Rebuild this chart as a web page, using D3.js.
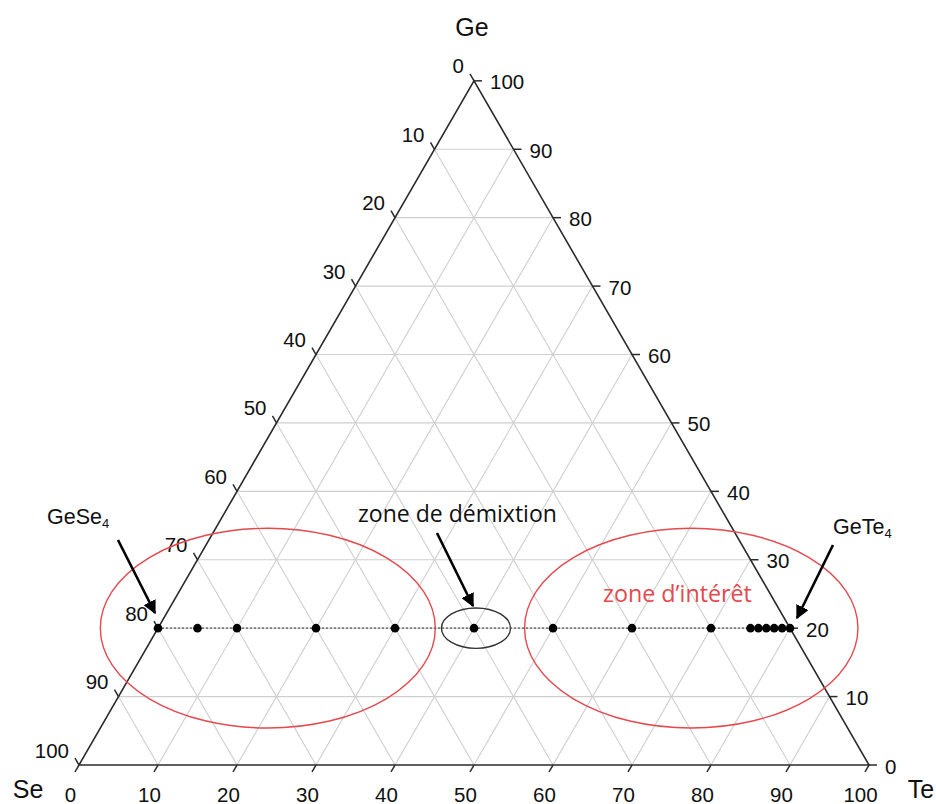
<!DOCTYPE html>
<html>
<head>
<meta charset="utf-8">
<script src="https://cdn.jsdelivr.net/npm/d3@7"></script>
<style>
  html, body { margin: 0; padding: 0; background: #fff; }
  svg { display: block; }
</style>
</head>
<body>
<svg id="chart" width="936" height="804"></svg>
<script>
// ---------------- data ----------------
const vertexNames = ["Se", "Te", "Ge"];
const tickValues = [0, 10, 20, 30, 40, 50, 60, 70, 80, 90, 100];
const gridValues = [10, 20, 30, 40, 50, 60, 70, 80, 90];
const sampleGe = 20;                                  // Ge at.% of every sample
const sampleTe = [0, 5, 10, 20, 30, 40, 50, 60, 70, 75, 76, 77, 78, 79, 80];
const compoundNames = ["GeSe", "GeTe"];
const zoneLabels = ["zone de démixtion", "zone d’intérêt"];
// zones drawn as ellipses centred on the Ge = 20 line: [Te centre, Te half-width, Ge half-height]
const zoneCenterTe = [13.9, 67.5, 40.25];
const zoneHalfTe = [21.2, 21.1, 4.37];
const zoneHalfGe = [14.6, 14.6, 2.95];

// ---------------- scales ----------------
const svg = d3.select("#chart");
const side = 790;
const x = d3.scaleLinear().domain([0, 100]).range([79, 79 + side]);           // Te + Ge/2
const y = d3.scaleLinear().domain([0, 100]).range([765, 765 - side * Math.sqrt(3) / 2]); // Ge
const P = (te, ge) => [x(te + ge / 2), y(ge)];
const kx = x(1) - x(0);   // px per unit
const ky = y(0) - y(1);

const line = d3.line();
const font = "'Liberation Sans', Arial, Helvetica, sans-serif";

// ---------------- grid ----------------
const grid = svg.append("g").attr("stroke", "#cfcfcf").attr("stroke-width", 1.1).attr("fill", "none");
gridValues.forEach(v => {
  grid.append("path").attr("d", line([P(0, v), P(100 - v, v)]));      // Ge = v
  grid.append("path").attr("d", line([P(v, 0), P(v, 100 - v)]));      // Te = v
  grid.append("path").attr("d", line([P(100 - v, 0), P(0, 100 - v)])); // Se = v
});

// ---------------- triangle ----------------
svg.append("path")
  .attr("d", line([P(0, 0), P(100, 0), P(0, 100)]) + "Z")
  .attr("fill", "none").attr("stroke", "#2b2b2b").attr("stroke-width", 1.6);

// ---------------- ticks & labels ----------------
const tl = 8;
const ticks = svg.append("g").attr("stroke", "#2b2b2b").attr("stroke-width", 1.5);
const labs = svg.append("g").attr("font-family", font).attr("font-size", 20.5).attr("fill", "#111");
tickValues.forEach(v => {
  // bottom: Te
  let [bx, by] = P(v, 0);
  ticks.append("line").attr("x1", bx).attr("y1", by).attr("x2", bx - tl * 0.5).attr("y2", by + tl * 0.866);
  labs.append("text").attr("x", bx - 8.5).attr("y", 794).attr("text-anchor", "middle")
    .attr("dominant-baseline", "central").text(v);
  // left: Se
  let [lx, ly] = P(0, 100 - v);
  ticks.append("line").attr("x1", lx).attr("y1", ly).attr("x2", lx - tl * 0.5).attr("y2", ly - tl * 0.866);
  labs.append("text").attr("x", lx - 10).attr("y", ly - 15).attr("text-anchor", "end")
    .attr("dominant-baseline", "central").text(v);
  // right: Ge
  let [rx, ry] = P(100 - v, v);
  ticks.append("line").attr("x1", rx).attr("y1", ry).attr("x2", rx + tl).attr("y2", ry);
  labs.append("text").attr("x", rx + 16).attr("y", ry + 1).attr("text-anchor", "start")
    .attr("dominant-baseline", "central").text(v);
});

// vertex names
const vn = svg.append("g").attr("font-family", font).attr("font-size", 25).attr("fill", "#111")
  .attr("dominant-baseline", "central").attr("text-anchor", "middle");
vn.append("text").attr("x", 28).attr("y", 789).text(vertexNames[0]);
vn.append("text").attr("x", 921).attr("y", 789).text(vertexNames[1]);
vn.append("text").attr("x", 472).attr("y", 27).text(vertexNames[2]);

// ---------------- zones (ellipses) ----------------
const red = "#e5484d";
const zoneStroke = [red, red, "#333"];
svg.append("g").attr("fill", "none").selectAll("ellipse").data(zoneCenterTe).join("ellipse")
  .attr("cx", (d) => P(d, sampleGe)[0]).attr("cy", (d) => P(d, sampleGe)[1])
  .attr("rx", (d, i) => zoneHalfTe[i] * kx).attr("ry", (d, i) => zoneHalfGe[i] * ky)
  .attr("stroke", (d, i) => zoneStroke[i]).attr("stroke-width", 1.4);

// ---------------- sample line & dots ----------------
svg.append("path")
  .attr("d", line([P(d3.min(sampleTe), sampleGe), P(d3.max(sampleTe), sampleGe)]))
  .attr("stroke", "#555").attr("stroke-width", 1.3).attr("stroke-dasharray", "2,2").attr("fill", "none");
svg.append("g").selectAll("circle").data(sampleTe).join("circle")
  .attr("cx", d => P(d, sampleGe)[0]).attr("cy", d => P(d, sampleGe)[1])
  .attr("r", 4.3).attr("fill", "#000");

// ---------------- arrows ----------------
const defs = svg.append("defs");
defs.append("marker").attr("id", "ah").attr("viewBox", "0 0 10 10").attr("refX", 9).attr("refY", 5)
  .attr("markerWidth", 5.2).attr("markerHeight", 5.2).attr("markerUnits", "strokeWidth").attr("orient", "auto")
  .append("path").attr("d", "M0,0 L10,5 L0,10 Z").attr("fill", "#000");
const arrows = [
  [[118, 540], [155, 613]],
  [[833, 545], [797, 618]],
  [[437, 533], [473, 606]]
];
svg.append("g").selectAll("path").data(arrows).join("path")
  .attr("d", d => line(d)).attr("stroke", "#000").attr("stroke-width", 2.6)
  .attr("fill", "none").attr("marker-end", "url(#ah)");

// ---------------- compound labels ----------------
const cpos = [[47, 517], [833, 527]];
compoundNames.forEach((n, i) => {
  const t = svg.append("text").attr("x", cpos[i][0]).attr("y", cpos[i][1])
    .attr("font-family", font).attr("font-size", 21.5).attr("fill", "#111")
    .attr("dominant-baseline", "central");
  t.append("tspan").text(n);
  t.append("tspan").attr("font-size", 13).attr("dy", 6).text("4");
});

// ---------------- zone labels ----------------
function fitText(txt, x0, yc, width, color, anchor) {
  const t = svg.append("text").attr("font-family", "'Open Sans', 'Noto Sans', sans-serif")
    .attr("font-size", 20).attr("fill", color).attr("dominant-baseline", "central").text(txt);
  const w = t.node().getComputedTextLength();
  const fs = 20 * width / w;
  t.attr("font-size", fs).attr("x", x0).attr("y", yc).attr("text-anchor", anchor);
}
fitText(zoneLabels[0], 358, 513, 199, "#111", "start");
fitText(zoneLabels[1], 603, 593, 149, red, "start");
</script>
</body>
</html>
